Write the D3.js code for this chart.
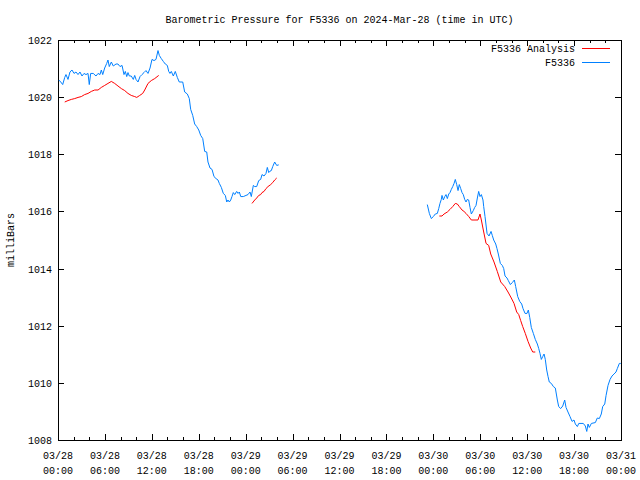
<!DOCTYPE html>
<html><head><meta charset="utf-8">
<script src="https://cdn.jsdelivr.net/npm/d3@7"></script>
<style>
html,body{margin:0;padding:0;background:#fff;}
svg text{font-family:"Liberation Mono","DejaVu Sans Mono",monospace;font-size:10px;fill:#000;}
</style></head>
<body><svg id="c" width="640" height="480"></svg>
<script>
const title = "Barometric Pressure for F5336 on 2024-Mar-28 (time in UTC)";
const yLabel = "milliBars";
const seriesNames = ["F5336 Analysis", "F5336"];
const seriesColors = ["#ff0000", "#0080ff"];
const xTickHours = [0,6,12,18,24,30,36,42,48,54,60,66,72];
const xTickDates = ["03/28","03/28","03/28","03/28","03/29","03/29","03/29","03/29","03/30","03/30","03/30","03/30","03/31"];
const xTickTimes = ["00:00","06:00","12:00","18:00","00:00","06:00","12:00","18:00","00:00","06:00","12:00","18:00","00:00"];
const yTicks = [1008,1010,1012,1014,1016,1018,1020,1022];

// observed F5336 (hours since 03/28 00:00, mb)
const obsA = [[0.10,1020.60],[0.35,1020.53],[0.60,1020.44],[0.86,1020.69],[1.02,1020.79],[1.28,1020.62],[1.53,1020.88],[1.79,1020.95],[2.05,1020.83],[2.30,1020.88],[2.56,1020.79],[2.81,1020.88],[3.07,1020.74],[3.33,1020.83],[3.58,1020.79],[3.84,1020.83],[4.00,1020.44],[4.18,1020.83],[4.51,1020.83],[4.86,1020.74],[5.12,1020.83],[5.37,1020.79],[5.54,1020.95],[5.72,1020.79],[5.97,1021.02],[6.23,1021.18],[6.39,1021.30],[6.56,1021.07],[6.82,1021.23],[7.07,1021.09],[7.42,1021.16],[7.67,1021.16],[7.93,1021.07],[8.19,1021.11],[8.44,1020.79],[8.61,1020.90],[8.79,1020.72],[8.95,1020.86],[9.12,1020.74],[9.37,1020.74],[9.63,1020.62],[9.81,1020.76],[9.98,1020.62],[10.23,1020.53],[10.49,1020.72],[10.74,1020.79],[11.00,1020.86],[11.25,1020.93],[11.51,1020.83],[11.77,1021.02],[12.02,1021.32],[12.28,1021.28],[12.53,1021.32],[12.79,1021.63],[12.96,1021.46],[13.21,1021.35],[13.47,1021.25],[13.72,1021.16],[13.98,1021.11],[14.16,1020.90],[14.32,1020.83],[14.49,1020.90],[14.75,1020.74],[15.00,1020.90],[15.26,1020.69],[15.51,1020.53],[15.95,1020.53],[16.20,1020.18],[16.54,1020.11],[16.79,1019.95],[16.97,1019.57],[17.23,1019.36],[17.48,1019.06],[17.74,1018.97],[18.00,1018.85],[18.25,1018.66],[18.51,1018.55],[18.76,1018.10],[19.02,1018.08],[19.18,1017.73],[19.44,1017.52],[19.70,1017.47],[19.95,1017.22],[20.21,1017.15],[20.46,1017.10],[20.63,1016.98],[20.89,1016.84],[21.14,1016.63],[21.40,1016.56],[21.58,1016.33],[21.74,1016.40],[21.91,1016.33],[22.09,1016.40],[22.25,1016.52],[22.42,1016.66],[22.60,1016.59],[22.85,1016.70],[23.02,1016.63],[23.19,1016.68],[23.37,1016.52],[23.70,1016.52],[24.04,1016.56],[24.30,1016.59],[24.56,1016.68],[24.72,1016.52],[24.98,1016.91],[25.16,1016.87],[25.41,1016.87],[25.67,1017.08],[25.92,1017.12],[26.09,1017.29],[26.35,1017.24],[26.60,1017.33],[26.77,1017.54],[26.95,1017.36],[27.11,1017.41],[27.28,1017.43],[27.46,1017.57],[27.71,1017.73],[27.97,1017.61],[28.23,1017.63]];
const obsB = [[47.23,1016.24],[47.49,1015.93],[47.74,1015.75],[48.00,1015.82],[48.25,1015.91],[48.51,1015.93],[48.69,1016.10],[48.85,1016.28],[49.02,1016.42],[49.11,1016.56],[49.28,1016.40],[49.46,1016.52],[49.62,1016.59],[49.79,1016.45],[49.97,1016.61],[50.13,1016.66],[50.30,1016.77],[50.48,1016.87],[50.65,1016.98],[50.81,1017.12],[50.99,1016.94],[51.16,1016.73],[51.32,1016.94],[51.50,1016.80],[51.67,1016.66],[51.83,1016.59],[52.01,1016.42],[52.18,1016.33],[52.34,1016.42],[52.52,1016.40],[52.69,1016.14],[52.86,1015.91],[53.11,1016.03],[53.29,1016.14],[53.46,1016.21],[53.63,1016.47],[53.80,1016.70],[53.97,1016.52],[54.14,1016.59],[54.35,1016.40],[54.44,1016.17],[54.61,1015.82],[54.87,1015.23],[55.12,1015.14],[55.38,1015.30],[55.54,1015.16],[55.72,1015.00],[55.98,1014.86],[56.14,1014.70],[56.31,1014.51],[56.57,1014.18],[56.82,1014.11],[57.00,1014.00],[57.17,1013.74],[57.42,1013.67],[57.59,1013.58],[57.85,1013.44],[58.10,1013.51],[58.36,1013.60],[58.53,1013.37],[58.79,1013.02],[59.05,1012.85],[59.30,1012.76],[59.47,1012.60],[59.73,1012.43],[59.98,1012.43],[60.15,1012.55],[60.33,1012.29],[60.53,1011.94],[60.79,1011.73],[61.04,1011.52],[61.30,1011.36],[61.48,1011.20],[61.64,1011.03],[61.81,1010.82],[61.99,1010.92],[62.16,1011.01],[62.32,1010.82],[62.50,1010.45],[62.67,1010.22],[62.83,1010.03],[63.09,1009.98],[63.35,1009.87],[63.60,1009.82],[63.86,1009.40],[64.03,1009.17],[64.29,1009.10],[64.55,1009.19],[64.80,1009.40],[64.97,1009.14],[65.22,1008.98],[65.48,1008.82],[65.74,1008.65],[65.99,1008.70],[66.16,1008.56],[66.42,1008.47],[66.60,1008.58],[67.18,1008.58],[67.44,1008.49],[67.62,1008.30],[67.78,1008.56],[67.95,1008.44],[68.21,1008.58],[68.72,1008.61],[68.97,1008.77],[69.23,1008.75],[69.48,1008.91],[69.66,1009.17],[69.92,1009.26],[70.09,1009.56],[70.34,1009.91],[70.60,1010.12],[70.85,1010.24],[71.11,1010.31],[71.36,1010.38],[71.53,1010.50],[71.79,1010.68],[71.97,1010.68]];
// analysis
const anaA = [[0.86,1019.83],[1.28,1019.88],[1.70,1019.92],[2.14,1019.95],[2.56,1019.99],[2.98,1020.02],[3.41,1020.09],[3.84,1020.13],[4.26,1020.20],[4.69,1020.25],[5.12,1020.25],[5.54,1020.34],[5.97,1020.41],[6.39,1020.48],[6.82,1020.55],[7.25,1020.48],[7.67,1020.39],[8.10,1020.30],[8.53,1020.23],[8.95,1020.13],[9.37,1020.06],[9.81,1020.02],[10.07,1019.99],[10.40,1020.05],[10.83,1020.13],[11.09,1020.25],[11.51,1020.48],[11.93,1020.58],[12.37,1020.65],[12.88,1020.76]];
const anaB = [[24.81,1016.28],[25.16,1016.40],[25.41,1016.47],[25.67,1016.56],[25.92,1016.59],[26.09,1016.66],[26.35,1016.70],[26.60,1016.80],[26.86,1016.87],[27.20,1016.94],[27.46,1017.01],[27.71,1017.10],[27.97,1017.17]];
const anaC = [[48.77,1015.84],[49.11,1015.84],[49.37,1015.91],[49.79,1015.98],[50.13,1016.07],[50.48,1016.17],[50.81,1016.28],[51.07,1016.26],[51.32,1016.17],[51.67,1016.05],[51.92,1016.00],[52.18,1015.93],[52.53,1015.82],[52.86,1015.70],[53.20,1015.70],[53.71,1015.70],[53.97,1015.91],[54.14,1015.70],[54.39,1015.35],[54.74,1014.88],[55.08,1014.81],[55.34,1014.51],[55.76,1014.23],[56.18,1013.90],[56.62,1013.53],[57.13,1013.37],[57.55,1013.18],[57.97,1012.97],[58.32,1012.78],[58.66,1012.48],[58.92,1012.39],[59.17,1012.18],[59.43,1011.97],[59.76,1011.73],[60.11,1011.45],[60.45,1011.22],[60.71,1011.08],[61.04,1011.08]];

const L = 58, R = 621, T = 40, B = 440;
const svg = d3.select("#c");
const x = d3.scaleLinear().domain([0,72]).range([L,R]);
const y = d3.scaleLinear().domain([1008,1022]).range([B,T]);

// title
svg.append("text").attr("x",(L+R)/2).attr("y",23).attr("text-anchor","middle").text(title);

// axes (ticks inward, mirrored)
const minorHours = d3.range(0,73,2);
const g = svg.append("g").attr("shape-rendering","crispEdges").attr("stroke","#000");
minorHours.forEach(h=>{
  const len = (h%6===0)?6:3;
  const xp = Math.round(x(h))+0.5;
  g.append("line").attr("x1",xp).attr("x2",xp).attr("y1",B).attr("y2",B-len);
  g.append("line").attr("x1",xp).attr("x2",xp).attr("y1",T).attr("y2",T+len);
});
yTicks.forEach(v=>{
  const yp = Math.round(y(v))+0.5;
  g.append("line").attr("x1",L).attr("x2",L+6).attr("y1",yp).attr("y2",yp);
  g.append("line").attr("x1",R).attr("x2",R-6).attr("y1",yp).attr("y2",yp);
});
g.append("rect").attr("x",L+0.5).attr("y",T+0.5).attr("width",R-L).attr("height",B-T).attr("fill","none");

// tick labels
yTicks.forEach(v=>{
  svg.append("text").attr("x",L-6).attr("y",y(v)+4).attr("text-anchor","end").text(v);
});
xTickHours.forEach((h,i)=>{
  svg.append("text").attr("x",x(h)).attr("y",459).attr("text-anchor","middle").text(xTickDates[i]);
  svg.append("text").attr("x",x(h)).attr("y",474).attr("text-anchor","middle").text(xTickTimes[i]);
});
svg.append("text").attr("transform","translate(14,"+((T+B)/2)+") rotate(-90)").attr("text-anchor","middle").text(yLabel);

// lines
const line = d3.line().x(d=>x(d[0])).y(d=>y(d[1]));
[anaA,anaB,anaC].forEach(s=>svg.append("path").attr("d",line(s)).attr("fill","none").attr("stroke",seriesColors[0]).attr("stroke-width",1));
[obsA,obsB].forEach(s=>svg.append("path").attr("d",line(s)).attr("fill","none").attr("stroke",seriesColors[1]).attr("stroke-width",1));

// legend
seriesNames.forEach((n,i)=>{
  const ly = 48 + i*14;
  svg.append("text").attr("x",575).attr("y",ly+4).attr("text-anchor","end").text(n);
  svg.append("line").attr("x1",582).attr("x2",610).attr("y1",ly+0.5).attr("y2",ly+0.5).attr("stroke",seriesColors[i]).attr("shape-rendering","crispEdges");
});
</script></body></html>
